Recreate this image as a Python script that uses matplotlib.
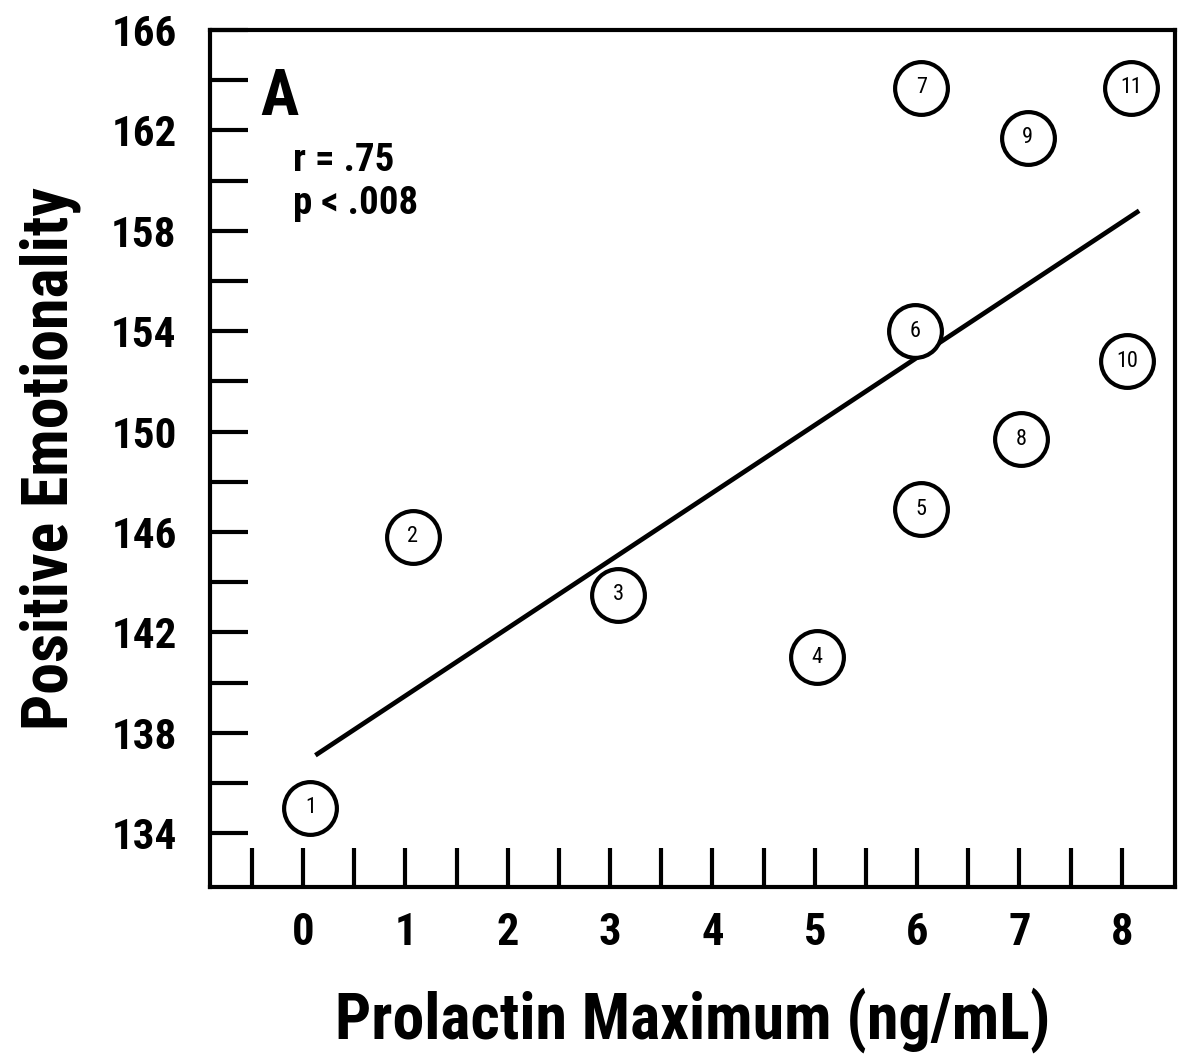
import numpy as np
import matplotlib
matplotlib.use('Agg')
import matplotlib.pyplot as plt

plt.rcParams['font.family'] = ['Roboto Condensed', 'Archivo Narrow', 'DejaVu Sans']

# Data
subject = ['1', '2', '3', '4', '5', '6', '7', '8', '9', '10', '11']
prolactin = [0.07, 1.07, 3.08, 5.02, 6.04, 5.98, 6.04, 7.02, 7.08, 8.05, 8.09]
emotionality = [135.0, 145.8, 143.5, 141.0, 146.9, 154.0, 163.7, 149.7, 161.7, 152.8, 163.7]
fit_x = [0.12, 8.17]
fit_y = [137.1, 158.8]
xtick_labels = ['0', '1', '2', '3', '4', '5', '6', '7', '8']
ytick_labels = ['134', '138', '142', '146', '150', '154', '158', '162', '166']

fig = plt.figure(figsize=(11.83, 10.57), dpi=100)
ax = fig.add_axes([0.1775, 0.1608, 0.8157, 0.8108])

ax.plot(fit_x, fit_y, color='black', linewidth=3.4, solid_capstyle='butt', zorder=2)
ax.scatter(prolactin, emotionality, s=38**2, facecolor='white', edgecolor='black',
           linewidth=3.0, zorder=3)
for lab, x, y in zip(subject, prolactin, emotionality):
    ax.text(x, y, lab, ha='center', va='center', fontsize=16, zorder=4)

ax.set_xlim(-0.91, 8.52)
ax.set_ylim(131.85, 166)

ax.set_xticks(np.arange(0, 9))
ax.set_xticklabels(xtick_labels)
ax.set_xticks(np.arange(-0.5, 8.5, 1.0), minor=True)
ax.set_yticks(np.arange(134, 167, 4))
ax.set_yticklabels(ytick_labels)
ax.set_yticks(np.arange(136, 166, 4), minor=True)

ax.tick_params(axis='both', which='both', direction='in', width=3,
               top=False, right=False)
ax.tick_params(axis='x', which='both', length=28, pad=18, labelsize=32)
ax.tick_params(axis='y', which='both', length=27, pad=24, labelsize=31)
for lbl in ax.get_xticklabels() + ax.get_yticklabels():
    lbl.set_fontweight('bold')

for sp in ax.spines.values():
    sp.set_linewidth(3)

ax.set_xlabel('Prolactin Maximum (ng/mL)', fontsize=46, fontweight='bold', labelpad=24)
ax.set_ylabel('Positive Emotionality', fontsize=46, fontweight='bold', labelpad=22)

ax.text(-0.42, 163.3, 'A', fontsize=46, fontweight='bold', va='center')
ax.text(-0.1, 160.8, 'r = .75', fontsize=28, fontweight='bold', va='center')
ax.text(-0.1, 159.1, 'p < .008', fontsize=28, fontweight='bold', va='center')

fig.savefig('out.png', dpi=100)
